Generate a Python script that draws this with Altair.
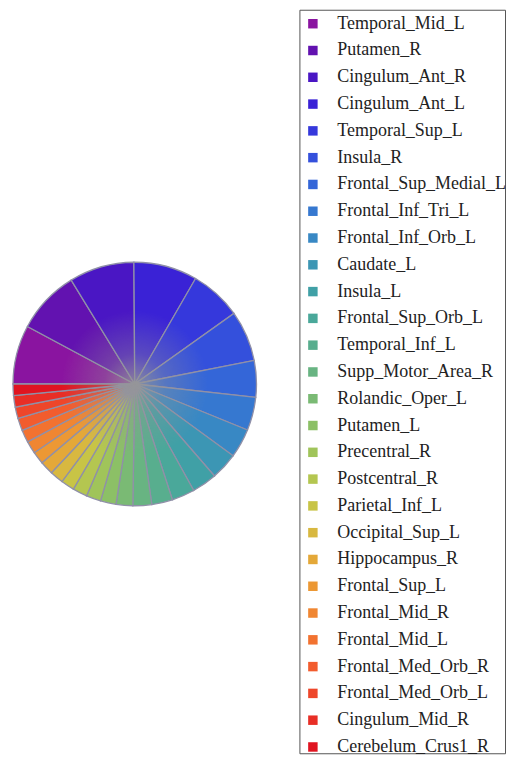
import altair as alt
import pandas as pd

names = ["Temporal_Mid_L", "Putamen_R", "Cingulum_Ant_R", "Cingulum_Ant_L",
         "Temporal_Sup_L", "Insula_R", "Frontal_Sup_Medial_L", "Frontal_Inf_Tri_L",
         "Frontal_Inf_Orb_L", "Caudate_L", "Insula_L", "Frontal_Sup_Orb_L",
         "Temporal_Inf_L", "Supp_Motor_Area_R", "Rolandic_Oper_L", "Putamen_L",
         "Precentral_R", "Postcentral_R", "Parietal_Inf_L", "Occipital_Sup_L",
         "Hippocampus_R", "Frontal_Sup_L", "Frontal_Mid_R", "Frontal_Mid_L",
         "Frontal_Med_Orb_R", "Frontal_Med_Orb_L", "Cingulum_Mid_R", "Cerebelum_Crus1_R"]

values = [28.3, 30.5, 31.2, 30.5, 24.7, 24.4, 17.5, 16, 14, 13, 12, 11, 10, 9,
          8, 7.5, 7, 7, 6.5, 6.5, 6.5, 6, 6, 6, 6, 5.5, 5.5, 5.5]

colors = ["#8a14a0", "#6212b0", "#4a16c4", "#3a22d6", "#3538dc", "#3450dc",
          "#3466d8", "#3678d0", "#3888c4", "#3c96b4", "#40a0a6", "#4aa89a",
          "#58ae8e", "#68b482", "#7aba74", "#8cc066", "#a0c45a", "#b4c650",
          "#c8c446", "#d8b840", "#e4a838", "#ec9834", "#f08632", "#f27230",
          "#f25c2e", "#ee462a", "#e82e26", "#e01420"]

df = pd.DataFrame({"name": names, "value": values, "idx": list(range(len(names)))})

start = 3 * 3.141592653589793 / 2
full = 2 * 3.141592653589793

color_scale = alt.Scale(domain=names, range=colors)

pie = alt.Chart(df).mark_arc(radius=122, stroke="#9090a8", strokeWidth=1.3, yOffset=2.5).encode(
    theta=alt.Theta("value:Q", stack=True, scale=alt.Scale(range=[start, start + full])),
    color=alt.Color("name:N", sort=names, scale=color_scale, legend=None),
    order=alt.Order("idx:Q"),
)

shade = alt.Chart(pd.DataFrame({"a": [0]})).mark_arc(
    radius=122,
    yOffset=2.5,
    fill=alt.Gradient(
        gradient="radial",
        stops=[
            alt.GradientStop(color="rgba(150,150,150,0.85)", offset=0),
            alt.GradientStop(color="rgba(150,150,150,0.35)", offset=0.25),
            alt.GradientStop(color="rgba(150,150,150,0.0)", offset=0.6),
        ],
        x1=0.5, y1=0.5, r1=0, x2=0.5, y2=0.5, r2=0.5,
    ),
).encode(theta=alt.value(0), theta2=alt.value(full))

pie_panel = alt.layer(pie, shade).properties(width=254, height=745)

ypos = alt.Y("name:N", sort=names, axis=None,
             scale=alt.Scale(type="point", domain=names, range=[14, 738.7], padding=0))

swatches = alt.Chart(df).mark_square(size=90, opacity=1).encode(
    y=ypos,
    x=alt.value(13.5),
    color=alt.Color("name:N", sort=names, scale=color_scale, legend=None),
)

labels = alt.Chart(df).mark_text(
    align="left", baseline="middle", font="Liberation Serif", fontSize=18, color="#222222"
).encode(y=ypos, x=alt.value(38), text="name:N")

legend_panel = alt.layer(swatches, labels).properties(
    width=206, height=745, view=alt.ViewBackground(stroke="#555555", strokeWidth=1)
)

chart = alt.hconcat(pie_panel, legend_panel, spacing=37).properties(padding=0).configure_view(stroke=None)

chart.save("out.html", embed_options={"renderer": "svg", "actions": False})
